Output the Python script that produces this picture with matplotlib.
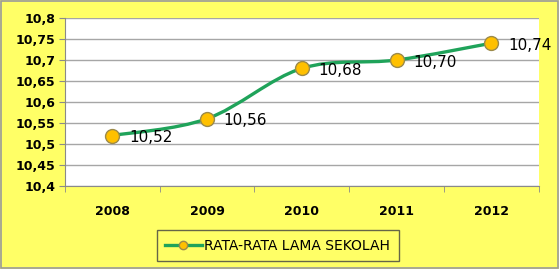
import matplotlib
matplotlib.use("Agg")
import matplotlib.pyplot as plt
from matplotlib.path import Path
from matplotlib.patches import PathPatch
from matplotlib.lines import Line2D
import numpy as np

# Data
years = ["2008", "2009", "2010", "2011", "2012"]
values = [10.52, 10.56, 10.68, 10.70, 10.74]
labels = ["10,52", "10,56", "10,68", "10,70", "10,74"]
y_ticks = [10.4, 10.45, 10.5, 10.55, 10.6, 10.65, 10.7, 10.75, 10.8]
y_tick_labels = ["10,4", "10,45", "10,5", "10,55", "10,6", "10,65", "10,7", "10,75", "10,8"]

bg = "#FFFF66"
green = "#1FA35A"
orange = "#FFC000"
font = ["Liberation Sans Narrow", "DejaVu Sans"]

fig = plt.figure(figsize=(5.59, 2.69), dpi=100, facecolor=bg)
fig.patches.append(plt.Rectangle((0.002, 0.004), 0.996, 0.992, transform=fig.transFigure,
                                 fill=False, edgecolor="#9A9A9A", linewidth=1.2))
ax = fig.add_axes([0.116, 0.309, 0.848, 0.624])
ax.set_facecolor("white")

x = np.arange(len(years))
# smooth line (Catmull-Rom style bezier through the data points)
pts = np.column_stack([x, values])
verts = [pts[0]]
codes = [Path.MOVETO]
t = 1 / 6
for i in range(len(pts) - 1):
    p0 = pts[i - 1] if i > 0 else pts[i]
    p1, p2 = pts[i], pts[i + 1]
    p3 = pts[i + 2] if i + 2 < len(pts) else pts[i + 1]
    c1 = p1 + (p2 - p0) * t
    c2 = p2 - (p3 - p1) * t
    verts += [c1, c2, p2]
    codes += [Path.CURVE4] * 3
ax.add_patch(PathPatch(Path(verts, codes), facecolor="none", edgecolor=green, linewidth=2.4, zorder=3))
ax.plot(x, values, linestyle="none", marker="o", markersize=10, markerfacecolor=orange,
        markeredgecolor="#9C8A4A", markeredgewidth=1.0, zorder=4)
for xi, v, lab in zip(x, values, labels):
    ax.annotate(lab, (xi, v), xytext=(12, -1.5), textcoords="offset points", ha="left", va="center",
                fontsize=11, family=font, color="black", zorder=5)

ax.set_xlim(-0.5, 4.5)
ax.set_ylim(10.4, 10.8)
ax.set_yticks(y_ticks)
ax.set_yticklabels(y_tick_labels, fontsize=9, fontweight="bold", family=font)
ax.set_xticks(x)
ax.set_xticklabels(years, fontsize=9, fontweight="bold", family=font)
ax.set_xticks(np.arange(-0.5, 5.0, 1), minor=True)
ax.tick_params(axis="x", which="major", length=0, pad=14)
ax.tick_params(axis="x", which="minor", length=4, color="#8A8A8A", direction="out")
ax.tick_params(axis="y", length=4, color="#8A8A8A", pad=3)
ax.grid(axis="y", color="#A6A6A6", linewidth=1.0)
ax.set_axisbelow(True)
for s in ["top", "right"]:
    ax.spines[s].set_visible(False)
ax.spines["left"].set_color("#8A8A8A")
ax.spines["bottom"].set_color("#8A8A8A")

handle = Line2D([], [], color=green, linewidth=2.4, marker="o", markersize=6,
                markerfacecolor=orange, markeredgecolor="#9C8A4A")
leg = fig.legend([handle], ["RATA-RATA LAMA SEKOLAH"], loc="center", bbox_to_anchor=(0.497, 0.087),
                 frameon=True, fancybox=False, prop={"family": font, "size": 10},
                 handlelength=2.6, borderpad=0.6, handletextpad=0.2)
leg.get_frame().set_facecolor(bg)
leg.get_frame().set_edgecolor("#404040")
leg.get_frame().set_linewidth(1.0)

fig.savefig("out.png", dpi=100, facecolor=bg)
